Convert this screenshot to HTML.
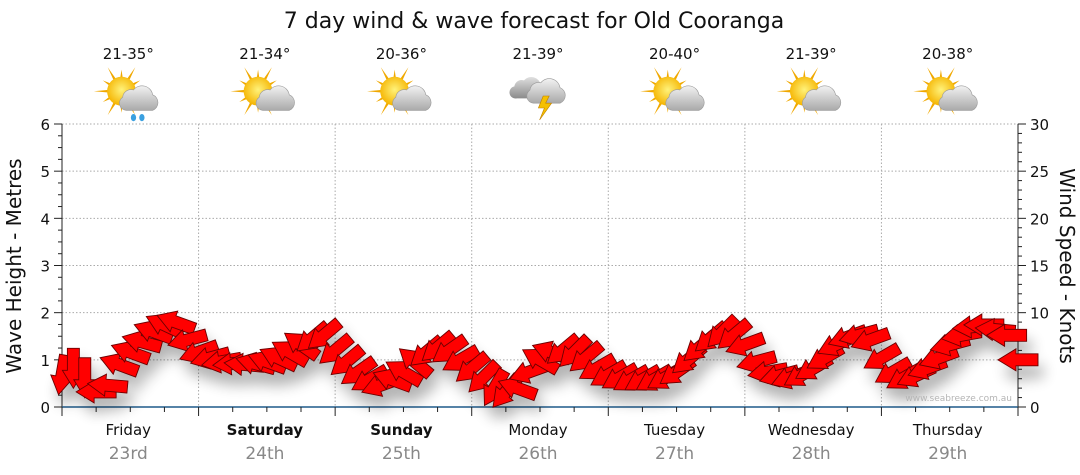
<!DOCTYPE html>
<html><head><meta charset="utf-8">
<style>
html,body{margin:0;padding:0;background:#fff;}
svg{display:block;font-family:"DejaVu Sans","Liberation Sans",sans-serif;}
</style></head>
<body>
<svg id="chart" width="1080" height="475" viewBox="0 0 1080 475">
<defs>
<filter id="shadow" x="-20%" y="-30%" width="140%" height="200%">
<feGaussianBlur in="SourceAlpha" stdDeviation="7"/>
<feOffset dx="5" dy="12" result="b"/>
<feComponentTransfer><feFuncA type="linear" slope="0.3"/></feComponentTransfer>
<feMerge><feMergeNode/><feMergeNode in="SourceGraphic"/></feMerge>
</filter>
<radialGradient id="sun" cx="50%" cy="45%" r="55%"><stop offset="0" stop-color="#fff27a"/><stop offset="1" stop-color="#f5b400"/></radialGradient>
<linearGradient id="cloud" x1="0" y1="0" x2="0" y2="1"><stop offset="0" stop-color="#f2f2f2"/><stop offset="1" stop-color="#a9a9a9"/></linearGradient>
<linearGradient id="dcloud" x1="0" y1="0" x2="0" y2="1"><stop offset="0" stop-color="#e0e0e0"/><stop offset="1" stop-color="#8a8a8a"/></linearGradient>
</defs>
<text x="534" y="28" text-anchor="middle" font-size="22" fill="#111">7 day wind &amp; wave forecast for Old Cooranga</text>
<g id="grid"></g>
<g id="axes"></g>
<g id="icons"></g>
<g id="arrows" filter="url(#shadow)"></g>
<text x="1012" y="401" text-anchor="end" font-size="9" fill="#b5b5b5">www.seabreeze.com.au</text>
<text transform="translate(21,266) rotate(-90)" text-anchor="middle" font-size="20" fill="#111">Wave Height - Metres</text>
<text transform="translate(1060,266) rotate(90)" text-anchor="middle" font-size="20" fill="#111">Wind Speed - Knots</text>
</svg>
<script>
const days = ["Friday","Saturday","Sunday","Monday","Tuesday","Wednesday","Thursday"];
const dates = ["23rd","24th","25th","26th","27th","28th","29th"];
const boldDays = [false,true,true,false,false,false,false];
const temps = ["21-35°","21-34°","20-36°","21-39°","20-40°","21-39°","20-38°"];
const icons = ["rain","cloud","cloud","storm","cloud","cloud","cloud"];
const waveTicks = [0,1,2,3,4,5,6];
const windTicks = [0,5,10,15,20,25,30];
// wind every 2 hours from Friday 00:00 (knots)
const windSpeed = [3.4,4.1,3.1,1.6,2.3,4.5,5.8,6.9,8.0,8.7,9.0,7.1,
 5.8,5.2,4.8,4.6,4.5,4.6,4.8,5.2,5.8,6.6,7.3,7.6,
 6.0,4.8,3.7,2.9,2.3,2.9,3.7,4.8,5.8,6.3,6.0,5.0,
 4.1,3.1,2.0,1.6,2.0,3.7,5.0,5.8,6.0,5.8,5.2,4.1,
 3.4,3.1,2.9,2.9,2.9,3.1,3.7,5.0,6.3,7.3,7.9,7.6,
 6.6,4.8,3.7,3.3,3.1,3.4,4.1,5.2,6.6,7.4,7.6,7.1,
 5.2,3.7,3.1,3.3,4.1,5.2,6.6,7.6,8.5,8.7,8.2,7.6,5.0];
// arrow pointing direction (screen degrees, 0 = right, 90 = down, 180 = left)
const windDir = [100,90,90,180,185,200,200,195,200,205,200,165,
 160,165,170,175,185,195,200,205,210,215,140,140,
 140,140,145,150,160,200,210,220,140,140,145,150,
 140,135,120,130,200,160,210,200,140,135,140,150,
 150,150,150,150,150,150,145,140,140,140,135,140,
 160,165,170,165,160,150,150,150,155,160,165,160,
 150,150,150,155,160,160,165,170,175,180,185,180,180];

const NS="http://www.w3.org/2000/svg";
const X0=62,X1=1018,Y0=407,Y1=124;
const xHour=h=>X0+(X1-X0)*h/168;
const yWave=m=>Y0-(Y0-Y1)*m/6;
const yWind=k=>Y0-(Y0-Y1)*k/30;
function mk(tag,attrs,parent,text){const e=document.createElementNS(NS,tag);for(const k in attrs)e.setAttribute(k,attrs[k]);if(text!==undefined)e.textContent=text;parent.appendChild(e);return e;}
const grid=document.getElementById('grid'),axes=document.getElementById('axes'),icg=document.getElementById('icons'),ar=document.getElementById('arrows');

waveTicks.forEach(m=>{
 if(m>0){const l=mk('line',{x1:X0,x2:X1,y1:yWave(m),y2:yWave(m),stroke:'#aaa','stroke-dasharray':'1.5,2'},grid);
 
 }
 const t=mk('text',{x:50,y:yWave(m)+6,'text-anchor':'end','font-size':15,fill:'#111'},axes,String(m));
 
 
});
windTicks.forEach(k=>{
 const t=mk('text',{x:1030,y:yWind(k)+6,'font-size':15,fill:'#111'},axes,String(k));
 
 
});
for(let i=0;i<=24;i++){const y=yWave(i/4);const big=i%4===0;
 mk('line',{x1:big?54:58,x2:X0,y1:y,y2:y,stroke:'#222'},axes);
}
for(let i=0;i<=30;i++){const y=yWind(i);const big=i%5===0;
 mk('line',{x1:X1,x2:big?1026:1022,y1:y,y2:y,stroke:'#222'},axes);
}
mk('line',{x1:X0,x2:X0,y1:Y1,y2:Y0+8,stroke:'#222'},axes);
mk('line',{x1:X1,x2:X1,y1:Y1,y2:Y0+8,stroke:'#222'},axes);
const base=mk('line',{x1:X0,x2:X1,y1:Y0,y2:Y0,stroke:'#1e5a8a','stroke-width':1.5},axes);


for(let h=0;h<=168;h+=6){const x=xHour(h);const big=h%24===0;
 mk('line',{x1:x,x2:x,y1:Y0,y2:Y0+(big?9:5),stroke:'#222'},axes);
}
days.forEach((d,i)=>{
 const xb=xHour(i*24),xc=xHour(i*24+12);
 if(i>0){const l=mk('line',{x1:xb,x2:xb,y1:Y1,y2:Y0,stroke:'#aaa','stroke-dasharray':'1.5,2'},grid);
 
 }
 const t=mk('text',{x:xc-2,y:435,'text-anchor':'middle','font-size':15,fill:'#111','font-weight':boldDays[i]?'bold':'normal'},axes,d);
 
 
 const t2=mk('text',{x:xc-2,y:459,'text-anchor':'middle','font-size':17,fill:'#888'},axes,dates[i]);
 
 
 const t3=mk('text',{x:xc-2,y:59,'text-anchor':'middle','font-size':15,fill:'#111'},icg,temps[i]);
 
 
 const g=mk('g',{transform:`translate(${xc-4},96) scale(1.2)`},icg);
 
 
 if(icons[i]!=='storm'){
  for(let r=0;r<12;r++){const a=r*30*Math.PI/180;const L=r%2?18:23;
   mk('polygon',{points:`${-4+Math.cos(a+0.12)*10},${-4+Math.sin(a+0.12)*10} ${-4+Math.cos(a)*L},${-4+Math.sin(a)*L} ${-4+Math.cos(a-0.12)*10},${-4+Math.sin(a-0.12)*10}`,fill:'#f0a800'},g);}
  mk('circle',{cx:-4,cy:-4,r:12,fill:'url(#sun)'},g);
  mk('path',{d:'M0,12 h22 a7,7 0 0 0 0,-13 a9,9 0 0 0 -16,-4 a7,7 0 0 0 -9,6 a6,6 0 0 0 3,11z',fill:'url(#cloud)',stroke:'#999','stroke-width':0.5},g);
  if(icons[i]==='rain'){mk('ellipse',{cx:6,cy:18,rx:2.2,ry:3,fill:'#3aa0e0'},g);mk('ellipse',{cx:13,cy:18,rx:2.2,ry:3,fill:'#3aa0e0'},g);}
 } else {
  mk('path',{d:'M-16,2 h20 a6,6 0 0 0 0,-11 a8,8 0 0 0 -14,-4 a6,6 0 0 0 -8,5 a5,5 0 0 0 2,10z',fill:'url(#dcloud)'},g);
  mk('path',{d:'M-2,6 h22 a7,7 0 0 0 0,-13 a9,9 0 0 0 -16,-4 a7,7 0 0 0 -9,6 a6,6 0 0 0 3,11z',fill:'url(#cloud)',stroke:'#999','stroke-width':0.5},g);
  mk('polygon',{points:'6,0 2,10 7,10 3,20 13,6 8,6 11,0',fill:'#f5c000',stroke:'#c08000','stroke-width':0.5},g);
 }
});
windSpeed.forEach((k,i)=>{
 const x=xHour(i*2),y=yWind(k);
 const p=mk('path',{d:'M-20,-6 H2 V-11 L20,0 L2,11 V6 H-20 Z',fill:'#ff0000',stroke:'#6a0000','stroke-width':0.9,'stroke-linejoin':'miter',transform:`translate(${x},${y}) rotate(${windDir[i]})`},ar);
 
 
});
</script>
</body></html>
